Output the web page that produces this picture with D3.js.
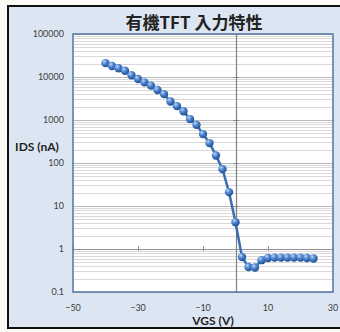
<!DOCTYPE html>
<html lang="ja">
<head>
<meta charset="UTF-8" />
<title>有機TFT 入力特性</title>
<script src="https://d3js.org/d3.v7.min.js"></script>
<style>
  body { margin: 0; background: #fbfaf5; }
  svg { display: block; }
  .tick-label { font: 9px Lato, "Noto Sans", sans-serif; fill: #404040; }
  .axis-title { font: bold 12px Lato, "Noto Sans", sans-serif; fill: #222; }
  .chart-title { font: bold 17px "Noto Sans CJK JP", sans-serif; fill: #222; }
</style>
</head>
<body>
<svg id="chart" width="340" height="332"></svg>
<script>
// VGS (V) and IDS (nA)
const vgs = [-40, -38, -36, -34, -32, -30, -28, -26, -24, -22, -20, -18, -16, -14, -12, -10,
  -8, -6, -4, -2, 0, 2, 4, 6, 8, 10, 12, 14, 16, 18, 20, 22, 24];
const ids = [21000, 18000, 16000, 14000, 11000, 9000, 7500, 6300, 5000, 4000, 2700, 2100,
  1600, 1050, 770, 470, 290, 150, 72, 21, 4.2, 0.65, 0.38, 0.37, 0.55, 0.62, 0.63, 0.63,
  0.63, 0.63, 0.63, 0.62, 0.6];
const xTicks = [-50, -30, -10, 10, 30];
const yTicks = [0.1, 1, 10, 100, 1000, 10000, 100000];
const yTickLabels = ["0.1", "1", "10", "100", "1000", "10000", "100000"];

const svg = d3.select("#chart");

// outer chart box
svg.append("rect")
  .attr("x", 8).attr("y", 6).attr("width", 340).attr("height", 322)
  .attr("fill", "#dce6f2").attr("stroke", "#111").attr("stroke-width", 2);

const plot = { left: 73, right: 333, top: 34, bottom: 292 };

const x = d3.scaleLinear().domain([-50, 30]).range([plot.left, plot.right]);
const y = d3.scaleLog().domain([0.1, 100000]).range([plot.bottom, plot.top]);

// plot area
svg.append("rect")
  .attr("x", plot.left).attr("y", plot.top)
  .attr("width", plot.right - plot.left).attr("height", plot.bottom - plot.top)
  .attr("fill", "#fff");

// minor + major gridlines
const minor = [];
yTicks.slice(0, -1).forEach(d => { for (let k = 2; k < 10; k++) minor.push(d * k); });
svg.append("g").selectAll("line").data(minor).join("line")
  .attr("x1", plot.left).attr("x2", plot.right)
  .attr("y1", d => Math.round(y(d)) + 0.5).attr("y2", d => Math.round(y(d)) + 0.5)
  .attr("stroke", "#d9d9d9").attr("stroke-width", 1);
svg.append("g").selectAll("line").data(yTicks).join("line")
  .attr("x1", plot.left).attr("x2", plot.right)
  .attr("y1", d => Math.round(y(d)) + 0.5).attr("y2", d => Math.round(y(d)) + 0.5)
  .attr("stroke", "#b8b8b8").attr("stroke-width", 1);

// vertical axis at VGS = 0
svg.append("line")
  .attr("x1", Math.round(x(0)) + 0.5).attr("x2", Math.round(x(0)) + 0.5)
  .attr("y1", plot.top).attr("y2", plot.bottom)
  .attr("stroke", "#808080").attr("stroke-width", 1.2);
svg.append("g").selectAll("line").data(yTicks).join("line")
  .attr("x1", x(0) - 2).attr("x2", x(0) + 3)
  .attr("y1", d => Math.round(y(d)) + 0.5).attr("y2", d => Math.round(y(d)) + 0.5)
  .attr("stroke", "#808080");

// horizontal axis crosses at 1
svg.append("line")
  .attr("x1", plot.left).attr("x2", plot.right)
  .attr("y1", Math.round(y(1)) + 0.5).attr("y2", Math.round(y(1)) + 0.5)
  .attr("stroke", "#909090");
svg.append("g").selectAll("line").data(xTicks).join("line")
  .attr("x1", d => Math.round(x(d)) + 0.5).attr("x2", d => Math.round(x(d)) + 0.5)
  .attr("y1", y(1) - 3).attr("y2", y(1) + 2)
  .attr("stroke", "#909090");

// plot border
svg.append("rect")
  .attr("x", plot.left).attr("y", plot.top)
  .attr("width", plot.right - plot.left).attr("height", plot.bottom - plot.top)
  .attr("fill", "none").attr("stroke", "#5b7bab").attr("stroke-width", 1.6);

// tick labels
svg.append("g").selectAll("text").data(yTicks).join("text")
  .attr("class", "tick-label")
  .attr("x", 64).attr("y", d => y(d)).attr("dy", "0.35em")
  .attr("text-anchor", "end")
  .text((d, i) => yTickLabels[i]);
svg.append("g").selectAll("text").data(xTicks).join("text")
  .attr("class", "tick-label")
  .attr("x", d => x(d)).attr("y", 307.5).attr("dy", "0.35em")
  .attr("text-anchor", "middle")
  .text(d => d < 0 ? "\u2212" + Math.abs(d) : d);

// titles
svg.append("text").attr("class", "chart-title")
  .attr("x", 194).attr("y", 29).attr("text-anchor", "middle")
  .text("有機TFT 入力特性");
svg.append("text").attr("class", "axis-title")
  .attr("x", 37).attr("y", 147).attr("dy", "0.35em").attr("text-anchor", "middle")
  .text("IDS (nA)");
svg.append("text").attr("class", "axis-title")
  .attr("x", 213).attr("y", 321).attr("dy", "0.35em").attr("text-anchor", "middle")
  .text("VGS (V)");

// sphere markers
const grad = svg.append("defs").append("radialGradient")
  .attr("id", "ball").attr("cx", "35%").attr("cy", "30%").attr("r", "70%");
grad.append("stop").attr("offset", "0%").attr("stop-color", "#b9d4f5");
grad.append("stop").attr("offset", "45%").attr("stop-color", "#4f86d0");
grad.append("stop").attr("offset", "100%").attr("stop-color", "#1f4f93");

const pts = vgs.map((v, i) => [v, ids[i]]);

svg.append("path")
  .datum(pts)
  .attr("fill", "none")
  .attr("stroke", "#3a6db3")
  .attr("stroke-width", 2.5)
  .attr("d", d3.line().x(d => x(d[0])).y(d => y(d[1])));

svg.append("g").selectAll("circle").data(pts).join("circle")
  .attr("cx", d => x(d[0])).attr("cy", d => y(d[1]))
  .attr("r", 4.2)
  .attr("fill", "url(#ball)");
</script>
</body>
</html>
